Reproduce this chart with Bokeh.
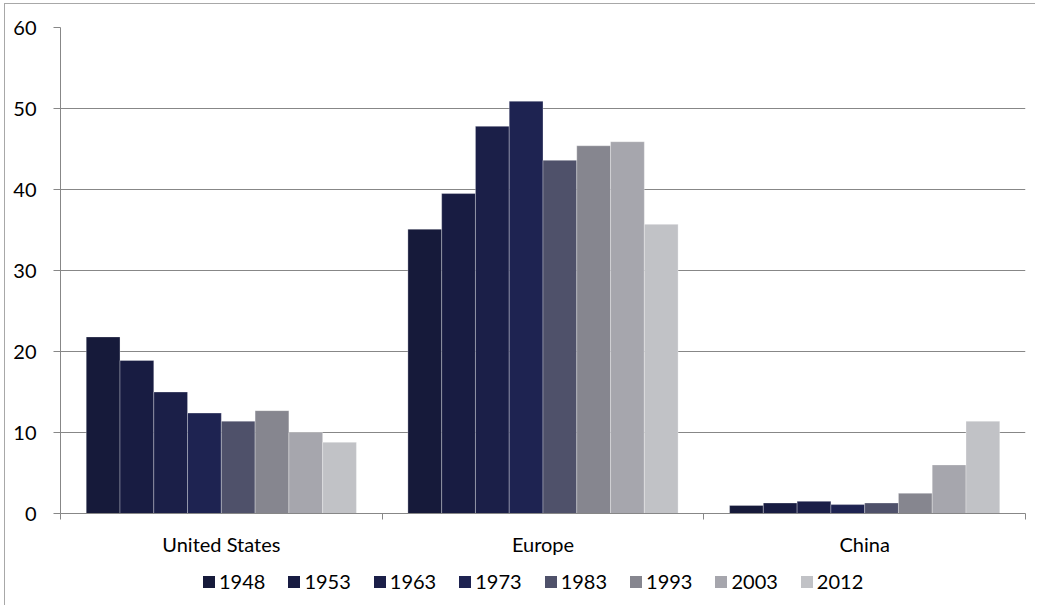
from bokeh.plotting import figure
from bokeh.layouts import column
from bokeh.models import ColumnDataSource, FixedTicker, Legend, LegendItem, Range1d
from bokeh.embed import file_html
from bokeh.resources import INLINE

countries = ["United States", "Europe", "China"]
years = ["1948", "1953", "1963", "1973", "1983", "1993", "2003", "2012"]
us = [21.8, 18.9, 15.0, 12.4, 11.4, 12.7, 10.0, 8.8]
europe = [35.1, 39.5, 47.8, 50.9, 43.6, 45.4, 45.9, 35.7]
china = [1.0, 1.3, 1.5, 1.1, 1.3, 2.5, 6.0, 11.4]
colors = ["#161a3a", "#181c42", "#1b1f48", "#1e2351", "#4f516a", "#86868f", "#a6a6ad", "#c1c2c6"]
y_ticks = [0, 10, 20, 30, 40, 50, 60]

FONT = "Lato"
bw = 0.105
AX = "#878787"

p = figure(frame_width=965, frame_height=486,
           x_range=Range1d(0, 3), y_range=Range1d(0, 60),
           output_backend="svg", toolbar_location=None,
           min_border_left=55, min_border_right=10, min_border_top=23,
           min_border_bottom=48)
p.outline_line_color = None

for j, yr in enumerate(years):
    tops = [us[j], europe[j], china[j]]
    xs = [i + 0.5 + (j - 3.5) * bw for i in range(len(countries))]
    src = ColumnDataSource(dict(x=xs, top=tops))
    p.vbar(x="x", top="top", width=bw, bottom=0, source=src,
           fill_color=colors[j], line_color="white", line_alpha=0.3, line_width=1)

# x axis
p.xaxis.ticker = FixedTicker(ticks=[0.5, 1.5, 2.5], minor_ticks=[0, 1, 2, 3])
p.xaxis.major_label_overrides = {0.5: countries[0], 1.5: countries[1], 2.5: countries[2]}
p.xaxis.major_tick_line_color = None
p.xaxis.major_tick_out = 0
p.xaxis.major_tick_in = 0
p.xaxis.minor_tick_out = 6
p.xaxis.minor_tick_in = 0
p.xaxis.minor_tick_line_color = AX
p.xaxis.axis_line_color = AX
p.xaxis.major_label_standoff = 12
p.xaxis.major_label_text_font = FONT
p.xaxis.major_label_text_font_size = "20px"
p.xaxis.major_label_text_color = "#000000"
p.xgrid.grid_line_color = None

# y axis
p.yaxis.ticker = FixedTicker(ticks=y_ticks)
p.yaxis.minor_tick_line_color = None
p.yaxis.major_tick_out = 7
p.yaxis.major_tick_in = 0
p.yaxis.major_tick_line_color = AX
p.yaxis.axis_line_color = AX
p.yaxis.major_label_standoff = 17
p.yaxis.major_label_text_font = FONT
p.yaxis.major_label_text_font_size = "20px"
p.yaxis.major_label_text_color = "#000000"
p.ygrid.grid_line_color = AX
p.ygrid.grid_line_width = 1

# legend strip (swatch renderers sit outside the visible range)
lf = figure(frame_width=1030, frame_height=44, x_range=Range1d(0, 1), y_range=Range1d(0, 1),
            output_backend="svg", toolbar_location=None,
            x_axis_type=None, y_axis_type=None,
            min_border_left=0, min_border_right=0, min_border_top=0, min_border_bottom=0)
lf.outline_line_color = None
lf.xgrid.grid_line_color = None
lf.ygrid.grid_line_color = None
items = []
for j, yr in enumerate(years):
    r = lf.vbar(x=[-5], top=[-5], bottom=[-6], width=0.1, fill_color=colors[j], line_color=None)
    items.append(LegendItem(label=yr, renderers=[r]))

legend = Legend(items=items, orientation="horizontal", location=(196, 12),
                glyph_width=15, glyph_height=15, label_standoff=3, spacing=21,
                label_height=20, label_text_font=FONT, label_text_font_size="20px",
                label_text_baseline="middle", label_text_color="#000000",
                border_line_color=None, background_fill_alpha=0,
                margin=0, padding=0)
lf.add_layout(legend, "center")

layout = column(p, lf, spacing=0)
layout.styles = {"border-left": "1px solid #a8a8a8", "border-top": "1px solid #a8a8a8",
                 "margin-left": "4px", "margin-top": "3px"}

open("out.html", "w").write(file_html(layout, INLINE))
